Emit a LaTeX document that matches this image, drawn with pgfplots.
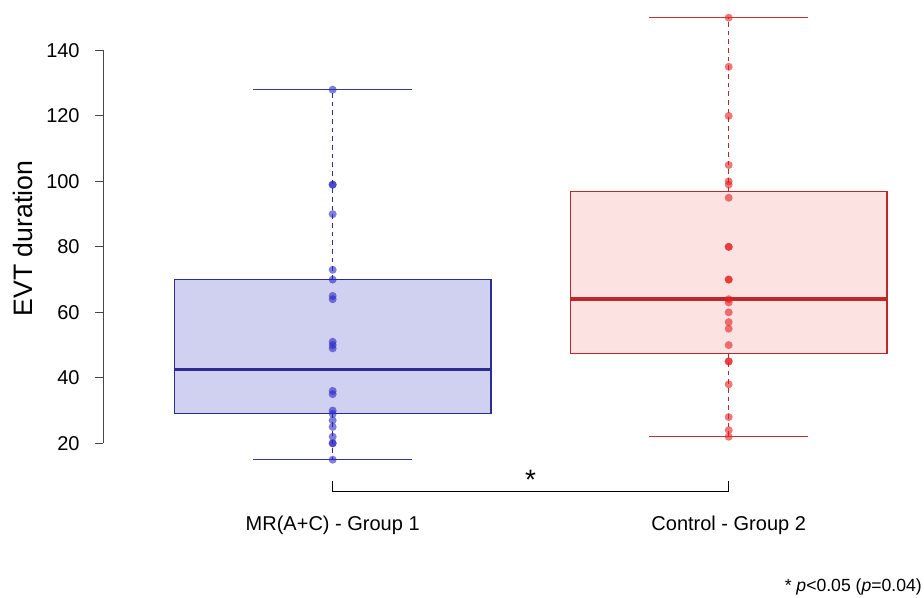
\documentclass[border=0pt]{standalone}
\usepackage{fontspec}
\setmainfont{Liberation Sans}
\usepackage{pgfplots}
\pgfplotsset{compat=1.18}
\definecolor{bfill}{RGB}{208,208,240}
\definecolor{bline}{RGB}{45,45,145}
\definecolor{bcap}{RGB}{55,55,160}
\definecolor{bpt}{RGB}{40,40,200}
\definecolor{rfill}{RGB}{253,226,226}
\definecolor{rline}{RGB}{190,40,45}
\definecolor{rcap}{RGB}{200,50,55}
\definecolor{rpt}{RGB}{230,30,30}
\definecolor{axgray}{RGB}{70,70,70}
\begin{document}
\begin{tikzpicture}
\begin{axis}[
  at={(77.25pt,0pt)}, anchor=north west,
  scale only axis, width=615.75pt, height=358pt,
  xmin=0.42, xmax=2.4932, ymin=9.6, ymax=155.4,
  axis line style={draw=none},
  ytick={20,40,...,140},
  xtick={1,2}, xticklabels={MR(A+C) - Group 1, Control - Group 2},
  xtick pos=bottom, ytick pos=left,
  x tick style={draw=none},
  y tick style={axgray, line width=0.75pt},
  tick align=outside, major tick length=6pt,
  tick label style={font=\fontsize{15}{18}\selectfont},
  /pgf/number format/assume math mode=true,
  xticklabel style={anchor=base, yshift=-34pt},
  yticklabel style={xshift=-8pt},
  ylabel={EVT duration},
  ylabel style={font=\fontsize{20}{24}\selectfont, at={(axis description cs:-0.097,0.5)}, anchor=center},
  clip=false,
]
% Group 1 box: whiskers, box, median, caps
\addplot[bline, line width=1pt, dash pattern=on 3.5pt off 3pt] coordinates {(1,70) (1,128)};
\addplot[bline, line width=1pt, dash pattern=on 3.5pt off 3pt] coordinates {(1,29) (1,15)};
\addplot[fill=bfill, draw=bline, line width=1pt] coordinates {(0.6,29) (1.4,29) (1.4,70) (0.6,70) (0.6,29)};
\addplot[bline, line width=2.8pt] coordinates {(0.6,42.5) (1.4,42.5)};
\addplot[bcap, line width=1pt] coordinates {(0.8,15) (1.2,15)};
\addplot[bcap, line width=1pt] coordinates {(0.8,128) (1.2,128)};
% Group 2 box
\addplot[rline, line width=1pt, dash pattern=on 3.5pt off 3pt] coordinates {(2,97) (2,150)};
\addplot[rline, line width=1pt, dash pattern=on 3.5pt off 3pt] coordinates {(2,47.5) (2,22)};
\addplot[fill=rfill, draw=rline, line width=1pt] coordinates {(1.6,47.5) (2.4,47.5) (2.4,97) (1.6,97) (1.6,47.5)};
\addplot[rline, line width=2.8pt] coordinates {(1.6,64) (2.4,64)};
\addplot[rcap, line width=1pt] coordinates {(1.8,22) (2.2,22)};
\addplot[rcap, line width=1pt] coordinates {(1.8,150) (2.2,150)};
% points
\addplot[only marks, mark=*, mark size=3pt, color=bpt, draw opacity=0, fill opacity=0.6] coordinates {
(1,128) (1,99) (1,99) (1,90) (1,73) (1,70) (1,65) (1,64) (1,51) (1,50) (1,49)
(1,36) (1,35) (1,30) (1,29) (1,27) (1,25) (1,22) (1,20) (1,20) (1,15)};
\addplot[only marks, mark=*, mark size=3pt, color=rpt, draw opacity=0, fill opacity=0.6] coordinates {
(2,150) (2,135) (2,120) (2,105) (2,100) (2,99) (2,95) (2,80) (2,80) (2,70) (2,70)
(2,64) (2,63) (2,60) (2,57) (2,55) (2,50) (2,45) (2,45) (2,38) (2,28) (2,24) (2,22)};
% significance bracket
\addplot[black, line width=0.8pt] coordinates {(1,8.4) (1,5.34) (2,5.34) (2,8.4)};
\node[font=\fontsize{21}{24}\selectfont, anchor=base] at (axis cs:1.5,5.9) {*};
% y axis line spanning the ticks
\draw[axgray, line width=0.75pt] (axis cs:0.42,20) -- (axis cs:0.42,140);
\end{axis}
\node[anchor=base east, font=\fontsize{13.2}{15}\selectfont, inner sep=0pt] at (691.5pt,-443.25pt) {* \textit{p}<0.05 (\textit{p}=0.04)};
\pgfresetboundingbox
\path[use as bounding box] (0,0) rectangle (693pt,-448.5pt);
\end{tikzpicture}
\end{document}
